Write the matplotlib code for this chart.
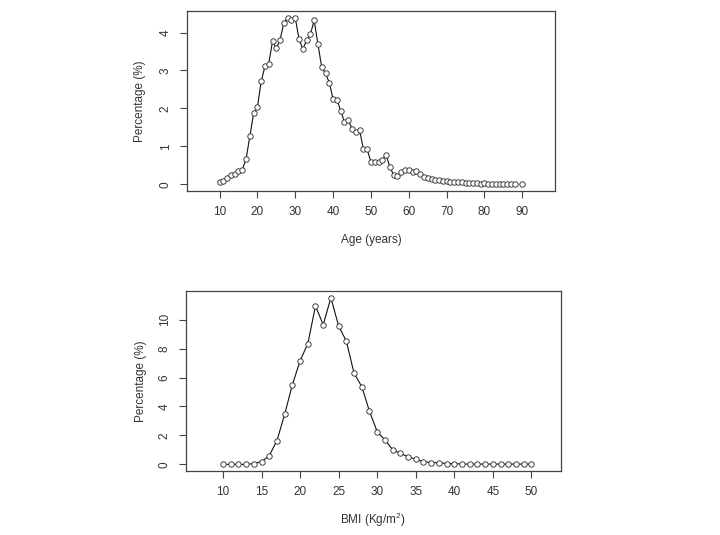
import numpy as np
import matplotlib
matplotlib.use('Agg')
import matplotlib.pyplot as plt

# age distribution (age 89 missing -> gap in the line)
ages = list(range(10, 91))
age_pct = [0.05, 0.10, 0.17, 0.24, 0.27, 0.34, 0.38, 0.66, 1.26, 1.87,
           2.03, 2.71, 3.11, 3.18, 3.77, 3.58, 3.81, 4.26, 4.39, 4.34,
           4.39, 3.83, 3.56, 3.80, 3.95, 4.32, 3.69, 3.08, 2.92, 2.68,
           2.24, 2.23, 1.94, 1.64, 1.69, 1.47, 1.38, 1.43, 0.93, 0.92,
           0.59, 0.59, 0.60, 0.65, 0.77, 0.46, 0.24, 0.22, 0.32, 0.38,
           0.37, 0.33, 0.34, 0.26, 0.20, 0.17, 0.14, 0.12, 0.11, 0.09,
           0.08, 0.07, 0.07, 0.05, 0.05, 0.04, 0.04, 0.04, 0.03, 0.02,
           0.03, 0.02, 0.02, 0.02, 0.01, 0.01, 0.01, 0.01, 0.01, None,
           0.01]

# BMI distribution
bmi = list(range(10, 51))
bmi_pct = [0.0, 0.0, 0.0, 0.0, 0.05, 0.19, 0.60, 1.64, 3.46, 5.50,
           7.16, 8.34, 10.94, 9.65, 11.52, 9.56, 8.52, 6.30, 5.38, 3.67,
           2.26, 1.69, 1.02, 0.76, 0.53, 0.35, 0.19, 0.12, 0.12, 0.05,
           0.05, 0.02, 0.02, 0.02, 0.02, 0.02, 0.02, 0.02, 0.02, 0.02,
           0.02]

plt.rcParams['font.family'] = ['Liberation Sans', 'DejaVu Sans']
plt.rcParams['mathtext.fontset'] = 'custom'
plt.rcParams['mathtext.rm'] = 'Liberation Sans'
plt.rcParams['mathtext.it'] = 'Liberation Sans'

grey = '#333333'
fig = plt.figure(figsize=(7.2, 5.35), dpi=100)
ax1 = fig.add_axes([0.2597, 0.643, 0.511, 0.3364])
ax2 = fig.add_axes([0.2583, 0.1196, 0.5204, 0.3364])


def r_style(ax, x, y, xlim, ylim, xticks, yticks, xlabel, lx, ly):
    yv = np.array([np.nan if v is None else v for v in y], dtype=float)
    ax.plot(x, yv, color='#111111', lw=0.8, marker='o', ms=3.9,
            mfc='white', mec='#333333', mew=0.65)
    ax.set_xlim(*xlim)
    ax.set_ylim(*ylim)
    ax.set_xticks(xticks)
    ax.set_yticks(yticks)
    for lab in ax.get_yticklabels():
        lab.set_rotation(90)
        lab.set_va('center')
    for s in ax.spines.values():
        s.set_color('#444444')
        s.set_linewidth(0.9)
    ax.tick_params(direction='out', length=5, width=0.8, colors='#444444',
                   labelcolor=grey, labelsize=8.5, pad=6)
    ax.set_xlabel(xlabel, fontsize=8.5, color=grey)
    ax.set_ylabel('Percentage (%)', fontsize=8.5, color=grey)
    ax.xaxis.label.set_va('center')
    ax.yaxis.label.set_va('center')
    ax.xaxis.set_label_coords(0.5, lx)
    ax.yaxis.set_label_coords(ly, 0.5)


r_style(ax1, ages, age_pct, (1.4, 98.6), (-0.176, 4.566),
        range(10, 91, 10), range(0, 5), 'Age (years)', -0.272, -0.128)
r_style(ax2, bmi, bmi_pct, (5.2, 53.8), (-0.46, 11.98),
        range(10, 51, 5), range(0, 11, 2), 'BMI (Kg/m$^2$)', -0.272, -0.121)

fig.savefig('out.png', dpi=100)
